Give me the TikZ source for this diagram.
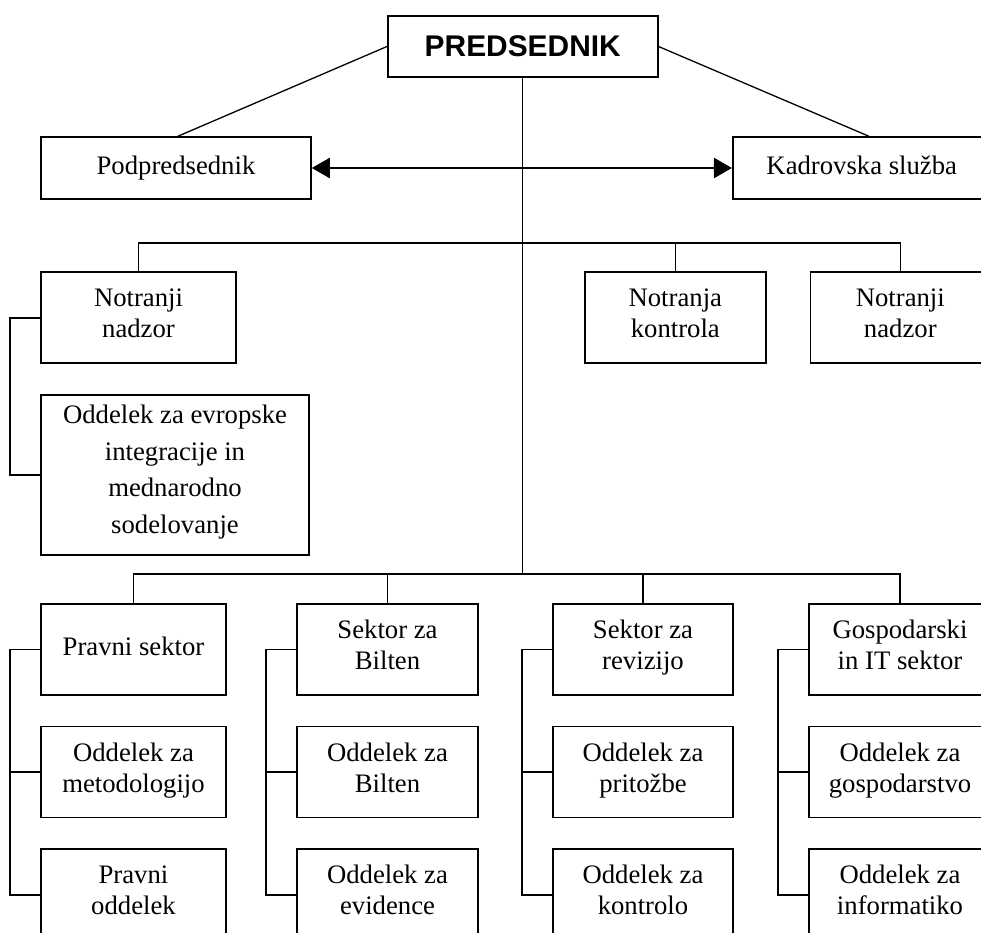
\documentclass[tikz,border=0pt]{standalone}
\usepackage{fontspec}
\setmainfont{Liberation Serif}
\newfontfamily\headfont{Liberation Sans}
\usetikzlibrary{positioning,arrows.meta}

\begin{document}
\begin{tikzpicture}[x=1pt, y=-1pt, >={Triangle[length=18pt,width=20pt]},
    unit/.style={draw, rectangle, line width=1.6pt, align=center, inner sep=2pt,
      font=\fontsize{26.7}{31}\selectfont,
      execute at begin node={\strut}, execute at end node={\strut}},
    sector/.style={unit, minimum width=182pt, minimum height=91pt},
    link/.style={line width=1.3pt},
    bracket/.style={line width=1.6pt}]
      \useasboundingbox (0,0) rectangle (981,932);
      \clip (0,0) rectangle (981,932);

      % Nodes
      \node [unit, minimum width=270pt, minimum height=61pt, font=\headfont\bfseries\fontsize{29.9}{47.5}\selectfont] (pred) at (522.75,46.5)
        {PREDSEDNIK};
      \node [unit, minimum width=270pt, minimum height=62pt] (podpred) at (176,168)
        {Podpredsednik};
      \node [unit, minimum width=258pt, minimum height=62pt] (kadr) at (861.75,168)
        {Kadrovska služba};

      \node [unit, minimum width=195pt, minimum height=91pt] (nadzorL) at (138.5,317.75)
        {Notranji\\nadzor};
      \node [unit, minimum width=181pt, minimum height=91pt] (kontrola) at (675.3,317.75)
        {Notranja\\kontrola};
      \node [unit, minimum width=180pt, minimum height=91pt] (nadzorR) at (900.3,317.75)
        {Notranji\\nadzor};
      \node [unit, font=\fontsize{26.7}{36.5}\selectfont, execute at begin node={\rule{0pt}{34pt}},
        minimum width=268pt, minimum height=160pt, below=30pt of nadzorL.south west, anchor=north west] (evropske)
        {Oddelek za evropske\\integracije in\\mednarodno\\sodelovanje};

      \node [sector, minimum width=185pt] (sekPravni) at (133.5,649.5) {Pravni sektor};
      \node [sector, minimum width=185pt, below=30pt of sekPravni] (metod) {Oddelek za\\metodologijo};
      \node [sector, minimum width=185pt, below=30pt of metod] (pravniOdd) {Pravni\\oddelek};

      \node [sector, minimum width=181pt] (sekBilten) at (387.5,649.5) {Sektor za\\Bilten};
      \node [sector, minimum width=181pt, below=30pt of sekBilten] (oddBilten) {Oddelek za\\Bilten};
      \node [sector, minimum width=181pt, below=30pt of oddBilten] (evid) {Oddelek za\\evidence};

      \node [sector, minimum width=180pt] (sekRev) at (643,649.5) {Sektor za\\revizijo};
      \node [sector, minimum width=180pt, below=30pt of sekRev] (pritozbe) {Oddelek za\\pritožbe};
      \node [sector, minimum width=180pt, below=30pt of pritozbe] (kontrolo) {Oddelek za\\kontrolo};

      \node [sector] (sekGosp) at (900,649.5) {Gospodarski\\in IT sektor};
      \node [sector, below=30pt of sekGosp] (gosp) {Oddelek za\\gospodarstvo};
      \node [sector, below=30pt of gosp] (info) {Oddelek za\\informatiko};

      \coordinate (busTop) at (522.75,243);
      \coordinate (busLow) at (522.75,574);

      % Lines
      \draw [link] (pred.west) -- ([xshift=2pt]podpred.north);
      \draw [link] (pred.east) -- ([xshift=7pt]kadr.north);
      \draw [<->, line width=2.2pt] (podpred.east) -- (kadr.west);
      \draw [link] (pred.south) -- (busLow);

      \draw [link] (nadzorL.north) |- (busTop) -| (nadzorR.north);
      \draw [link] (kontrola.north) -- (kontrola.north |- busTop);
      \draw [bracket] (nadzorL.west) -- ++(-30,0) |- (evropske.west);

      \draw [link] (sekPravni.north) |- (busLow) -| (sekGosp.north);
      \draw [link] (sekBilten.north) -- (sekBilten.north |- busLow);
      \draw [link] (sekRev.north) -- (sekRev.north |- busLow);

      \draw [bracket] (sekPravni.west) -- ++(-30,0) |- (pravniOdd.west);
      \draw [bracket] (metod.west) -- ++(-30,0);
      \draw [bracket] (sekBilten.west) -- ++(-30,0) |- (evid.west);
      \draw [bracket] (oddBilten.west) -- ++(-30,0);
      \draw [bracket] (sekRev.west) -- ++(-30,0) |- (kontrolo.west);
      \draw [bracket] (pritozbe.west) -- ++(-30,0);
      \draw [bracket] (sekGosp.west) -- ++(-30,0) |- (info.west);
      \draw [bracket] (gosp.west) -- ++(-30,0);
    \end{tikzpicture}
\end{document}
